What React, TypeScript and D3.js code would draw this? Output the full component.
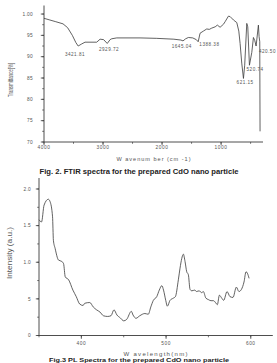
import React from "react";
import * as d3 from "d3";

// FTIR spectrum (top)
const ftirWavenumber = [4000, 3900, 3800, 3678, 3600, 3520, 3460, 3421, 3360, 3305, 3107, 3050, 2990, 2929, 2880, 2853, 2768, 2373, 2090, 1800, 1680, 1645, 1600, 1554, 1480, 1420, 1388, 1356, 1300, 1243, 1200, 1158, 1100, 1063, 1017, 960, 932, 876, 847, 790, 734, 700, 678, 650, 621, 600, 565, 548, 520, 480, 452, 430, 407, 368, 356, 345, 340];
const ftirTransmittance = [99.0, 98.6, 98.2, 97.7, 96.8, 95.0, 93.3, 92.5, 93.0, 93.4, 93.4, 94.1, 94.0, 93.1, 94.0, 94.2, 94.4, 94.4, 94.3, 94.1, 93.9, 93.7, 94.2, 94.5, 94.4, 94.0, 93.5, 95.5, 96.0, 96.5, 96.4, 96.7, 97.0, 97.4, 96.9, 97.6, 98.2, 99.5, 99.4, 98.6, 98.0, 96.0, 93.1, 88.5, 84.9, 88.0, 97.8, 97.0, 88.0, 91.0, 94.5, 93.8, 92.5, 97.4, 94.7, 93.5, 72.5];
const ftirPeakLabels = ["3421.81", "2929.72", "1645.04", "1388.38", "621.15", "520.74", "420.50"];
const ftirPeakLabelWn = [3475, 2898, 1666, 1198, 593, 424, 215];
const ftirPeakLabelT = [90.6, 91.7, 92.5, 93.0, 83.9, 87.1, 91.2];
const ftirXTicks = [4000, 3000, 2000, 1000];
const ftirXTickLabels = ["4000", "3000", "2000", "1000"];
const ftirYTicks = [100, 95, 90, 85, 80, 75, 70];
const ftirYTickLabels = ["1.00", "95", "90", "85", "80", "75", "70"];

// PL spectrum (bottom)
const plWavelength = [350, 353, 356, 361, 363, 366, 367, 369, 373, 377, 379, 381, 385, 390, 394, 398, 402, 404, 410, 414, 418, 422, 426, 431, 435, 438.5, 442, 446, 450, 453.5, 459, 461, 464.5, 469, 475, 479, 482, 485, 489, 492, 495, 497, 499.6, 501.5, 504.7, 508.6, 511, 514.5, 516.5, 518.5, 520.4, 522.4, 524.4, 526.3, 528.3, 530.3, 534, 536, 539, 542, 544, 547, 550, 553, 556, 559, 560.5, 563, 565.7, 568, 572, 575.5, 579, 583, 586, 589, 592, 594.4, 596, 598];
const plIntensity = [1.58, 1.55, 1.78, 1.86, 1.83, 1.62, 1.30, 1.19, 1.03, 1.01, 0.98, 0.80, 0.76, 0.62, 0.53, 0.43, 0.41, 0.44, 0.45, 0.39, 0.35, 0.32, 0.27, 0.26, 0.27, 0.35, 0.28, 0.24, 0.20, 0.22, 0.33, 0.28, 0.235, 0.27, 0.30, 0.29, 0.39, 0.48, 0.53, 0.62, 0.68, 0.62, 0.48, 0.40, 0.48, 0.51, 0.53, 0.76, 0.92, 1.05, 1.11, 1.01, 0.87, 0.83, 0.63, 0.61, 0.62, 0.60, 0.61, 0.585, 0.60, 0.51, 0.49, 0.475, 0.475, 0.44, 0.42, 0.55, 0.51, 0.48, 0.60, 0.53, 0.52, 0.66, 0.60, 0.63, 0.73, 0.87, 0.85, 0.78];
const plXTicks = [400, 500, 600];
const plXTickLabels = ["400", "500", "600"];
const plYTicks = [2.0, 1.5, 1.0, 0.5, 0];
const plYTickLabels = ["2.0", "1.5", "1.0", "5", "0"];

const FONT = "'Liberation Sans', Arial, sans-serif";
const INK = "#3a3a3a";
const TXT = "#555";

export default function App() {
  // top chart scales
  const x1 = d3.scaleLinear().domain([4000, 290]).range([44, 263]);
  const y1 = d3.scaleLinear().domain([70, 102]).range([142, 5.5]);
  const line1 = d3
    .line<number>()
    .x((_, i) => x1(ftirWavenumber[i]))
    .y((d) => y1(d))
    .curve(d3.curveLinear);
  const x1Minor = d3.range(4000, 290, -500);
  const y1Minor = d3.range(70, 102.01, 2.5);

  // bottom chart scales
  const x2 = d3.scaleLinear().domain([350, 626]).range([39, 272.8]);
  const y2 = d3.scaleLinear().domain([0, 2.15]).range([335.5, 178]);
  const line2 = d3
    .line<number>()
    .x((_, i) => x2(plWavelength[i]))
    .y((d) => y2(d))
    .curve(d3.curveMonotoneX);
  const x2Minor = d3.range(350, 626, 50);
  const y2Minor = d3.range(0, 2.15, 0.25);

  return (
    <svg
      width={277}
      height={363}
      style={{ position: "absolute", left: 0, top: 0, background: "#fff" }}
      fontFamily={FONT}
    >
      <rect x={0} y={0} width={277} height={363} fill="#fff" />
      {/* ---------- TOP: FTIR ---------- */}
      <g>
        <line x1={44} x2={44} y1={y1(102)} y2={142} stroke={INK} strokeWidth={0.9} />
        <line x1={44} x2={263} y1={142} y2={142} stroke={INK} strokeWidth={0.9} />
        {y1Minor.map((v) => (
          <line key={"y1m" + v} x1={44 - 1.8} x2={44} y1={y1(v)} y2={y1(v)} stroke={INK} strokeWidth={0.7} />
        ))}
        {ftirYTicks.map((v, i) => (
          <g key={"y1t" + v}>
            <line x1={44 - 3.2} x2={44} y1={y1(v)} y2={y1(v)} stroke={INK} strokeWidth={0.8} />
            <text x={33} y={y1(v) + 1.7} fontSize={4.8} textAnchor="end" fill={TXT} letterSpacing={0.3}>
              {ftirYTickLabels[i]}
            </text>
          </g>
        ))}
        {x1Minor.map((v) => (
          <line key={"x1m" + v} x1={x1(v)} x2={x1(v)} y1={142} y2={143.8} stroke={INK} strokeWidth={0.7} />
        ))}
        {ftirXTicks.map((v, i) => (
          <g key={"x1t" + v}>
            <line x1={x1(v)} x2={x1(v)} y1={142} y2={145.2} stroke={INK} strokeWidth={0.8} />
            <text x={x1(v)} y={148.5} fontSize={4.8} textAnchor="middle" fill={TXT} letterSpacing={0.6}>
              {ftirXTickLabels[i]}
            </text>
          </g>
        ))}
        <path d={line1(ftirTransmittance) || ""} fill="none" stroke={INK} strokeWidth={0.8} strokeLinejoin="round" />
        {ftirPeakLabels.map((t, i) => (
          <text
            key={"pl" + t}
            x={x1(ftirPeakLabelWn[i])}
            y={y1(ftirPeakLabelT[i]) + 1.7}
            fontSize={4.6}
            textAnchor="middle"
            fill={TXT}
            letterSpacing={0.5}
          >
            {t}
          </text>
        ))}
        <text
          x={153.5}
          y={160.5}
          fontSize={5.6}
          textAnchor="middle"
          fill={TXT}
          textLength={74}
          lengthAdjust="spacing"
        >
          W avenum ber (cm -1)
        </text>
        <text
          transform="translate(12.5,80) rotate(-90)"
          fontSize={7}
          textAnchor="middle"
          fill={TXT}
          textLength={34}
          lengthAdjust="spacingAndGlyphs"
        >
          Transmittance[%]
        </text>
        <text
          x={139}
          y={174}
          fontSize={7}
          fontWeight="bold"
          textAnchor="middle"
          fill="#222"
          textLength={199}
          lengthAdjust="spacingAndGlyphs"
        >
          Fig. 2. FTIR spectra for the prepared CdO nano particle
        </text>
      </g>

      {/* ---------- BOTTOM: PL ---------- */}
      <g>
        <line x1={39} x2={39} y1={y2(2.15)} y2={335.5} stroke={INK} strokeWidth={0.9} />
        <line x1={39} x2={272.8} y1={335.5} y2={335.5} stroke={INK} strokeWidth={0.9} />
        {y2Minor.map((v) => (
          <line key={"y2m" + v} x1={39 - 1.8} x2={39} y1={y2(v)} y2={y2(v)} stroke={INK} strokeWidth={0.7} />
        ))}
        {plYTicks.map((v, i) => (
          <g key={"y2t" + v}>
            <line x1={39 - 3.2} x2={39} y1={y2(v)} y2={y2(v)} stroke={INK} strokeWidth={0.8} />
            <text x={31} y={y2(v) + 1.7} fontSize={4.8} textAnchor="end" fill={TXT} letterSpacing={0.3}>
              {plYTickLabels[i]}
            </text>
          </g>
        ))}
        {x2Minor.map((v) => (
          <line key={"x2m" + v} x1={x2(v)} x2={x2(v)} y1={335.5} y2={337.3} stroke={INK} strokeWidth={0.7} />
        ))}
        {plXTicks.map((v, i) => (
          <g key={"x2t" + v}>
            <line x1={x2(v)} x2={x2(v)} y1={335.5} y2={338.8} stroke={INK} strokeWidth={0.8} />
            <text x={x2(v)} y={345.3} fontSize={4.8} textAnchor="middle" fill={TXT} letterSpacing={0.5}>
              {plXTickLabels[i]}
            </text>
          </g>
        ))}
        <path d={line2(plIntensity) || ""} fill="none" stroke={INK} strokeWidth={0.8} strokeLinejoin="round" />
        <text
          x={155.5}
          y={355.6}
          fontSize={6}
          textAnchor="middle"
          fill={TXT}
          textLength={64}
          lengthAdjust="spacing"
        >
          W avelength(nm)
        </text>
        <text
          transform="translate(12,253) rotate(-90)"
          fontSize={7}
          textAnchor="middle"
          fill={TXT}
          textLength={52}
          lengthAdjust="spacingAndGlyphs"
        >
          Intensity (a.u.)
        </text>
        <text
          x={139}
          y={361.8}
          fontSize={5.2}
          fontWeight="bold"
          textAnchor="middle"
          fill="#222"
          textLength={180}
          lengthAdjust="spacingAndGlyphs"
        >
          Fig.3 PL Spectra for the prepared CdO nano particle
        </text>
      </g>
    </svg>
  );
}
